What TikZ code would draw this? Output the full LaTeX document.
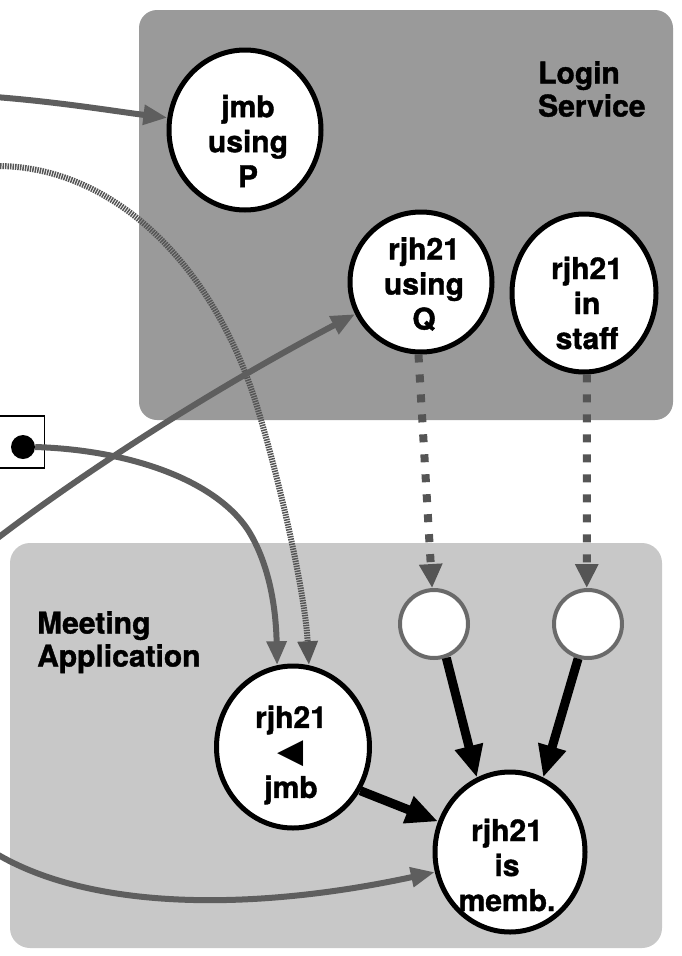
\documentclass[tikz,border=0pt]{standalone}
\usepackage{fontspec}
\setmainfont{TeX Gyre Heros}[BoldFeatures={FakeBold=1.2}]
\newfontfamily\symfont{DejaVu Sans}
\usetikzlibrary{arrows.meta,shapes.geometric}
\definecolor{loginfill}{HTML}{9A9A9A}
\definecolor{meetfill}{HTML}{C8C8C8}
\definecolor{conn}{HTML}{5E5E5E}
\definecolor{hatch}{HTML}{555555}
\definecolor{dashc}{HTML}{555555}
\definecolor{smallrim}{HTML}{6A6A6A}
\begin{document}
\begin{tikzpicture}[x=1pt,y=-1pt,
  big/.style={ellipse,draw=black,line width=5pt,fill=white,inner sep=0pt},
  small/.style={circle,draw=smallrim,line width=4pt,fill=white,inner sep=0pt,minimum size=68pt},
  lbl/.style={align=center,inner sep=0pt,font=\fontsize{30}{35}\selectfont\bfseries},
  title/.style={align=left,inner sep=0pt,anchor=north west,font=\fontsize{30}{33}\selectfont\bfseries},
  grayarrow/.style={draw=conn,line width=6pt,-{Triangle[length=24pt,width=19pt]}},
  hatcharrow/.style={draw=hatch,line width=6pt,dash pattern=on 1.5pt off 1pt,-{Triangle[length=24pt,width=19pt]}},
  dasharrow/.style={draw=dashc,line width=8pt,dash pattern=on 8pt off 12pt,-{Triangle[length=24pt,width=22pt]}},
  blackarrow/.style={draw=black,line width=9pt,-{Triangle[length=32pt,width=27pt]}}
]
\useasboundingbox (0,0) rectangle (681,956);
% regions
\fill[loginfill,rounded corners=18pt] (139,10) rectangle (673,420);
\fill[meetfill,rounded corners=20pt] (10,543) rectangle (662,948);
\node[title] (login) at (538,61) {Login\\Service};
\node[title] (meet) at (37,611) {Meeting\\Application};
% nodes
\node[big,minimum width=152pt,minimum height=160pt] (P) at (245,130) {};
\node[big,minimum width=142pt,minimum height=140pt] (Q) at (421,282) {};
\node[big,minimum width=144pt,minimum height=158pt] (S) at (584,293) {};
\node[big,minimum width=150pt,minimum height=160pt] (M) at (510,852) {};
\node[big,minimum width=153pt,minimum height=162pt] (R) at (293,747) {};
\node[small] (s1) at (434,624) {};
\node[small] (s2) at (588,624) {};
\node[lbl] (Pt) at (248,141) {jmb\\using\\P};
\node[lbl] (Qt) at (424,284) {rjh21\\using\\Q};
\node[lbl] (St) at (587,303) {rjh21\\in\\staff};
\node[lbl] (Mt) at (507,865) {rjh21\\is\\memb.};
\node[lbl] (Rt) at (291,755) {rjh21\\{\symfont\fontsize{34}{34}\selectfont ◀}\\jmb};
\node[draw=black,line width=1.2pt,minimum width=55pt,minimum height=52pt,inner sep=0pt] (sq) at (17,442) {};
\node[circle,fill=black,minimum size=24pt,inner sep=0pt] (dot) at (23,447) {};
% free ends
\coordinate (ts) at (-5,97);
\coordinate (hs) at (-5,166);
\coordinate (qs) at (-5,540);
\coordinate (bs) at (-5,853);
% connectors
\draw[grayarrow] (ts) .. controls (60,102) and (120,112) .. (P.171);
\draw[hatcharrow] (hs) .. controls (110,165) and (210,260) .. (255,400) .. controls (277,470) and (305,590) .. (R.79);
\draw[grayarrow] (qs) .. controls (100,460) and (230,380) .. (Q.-154);
\draw[grayarrow] (dot.east) .. controls (130,450) and (215,480) .. (248,530) .. controls (270,565) and (276,610) .. (R.101);
\draw[grayarrow] (bs) .. controls (90,910) and (250,912) .. (M.-165);
\draw[dasharrow] (Q.-92) -- (s1.93);
\draw[dasharrow] (S.-88) -- (s2.92);
\draw[blackarrow] (s1.-70) -- (M.114);
\draw[blackarrow] (s2.-106) -- (M.66);
\draw[blackarrow] (R.-33) -- (M.157);
\end{tikzpicture}
\end{document}
